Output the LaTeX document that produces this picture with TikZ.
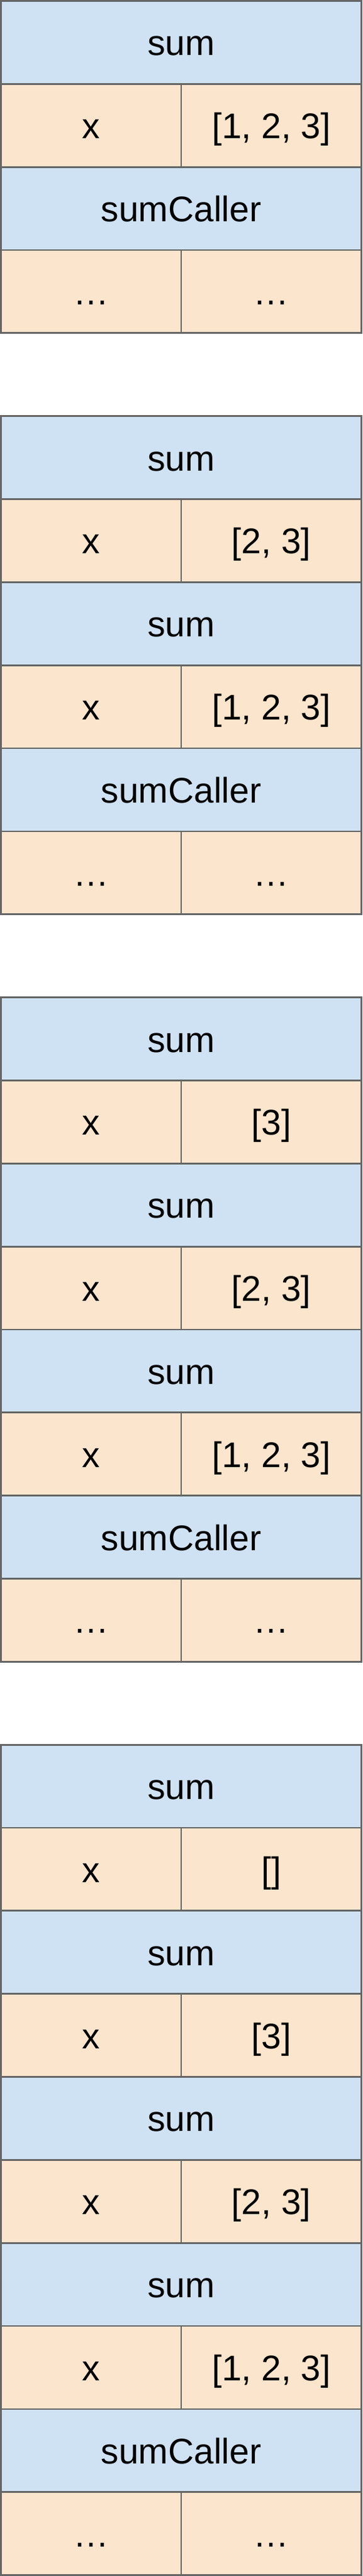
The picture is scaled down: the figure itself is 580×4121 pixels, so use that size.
\documentclass[tikz,border=0pt]{standalone}
\usepackage{fontspec}
\setmainfont{Liberation Sans}
\definecolor{hdrblue}{HTML}{CFE2F3}
\definecolor{varorange}{HTML}{FCE5CD}
\definecolor{edgegray}{HTML}{666666}
\tikzset{
  cell/.style={draw=edgegray, line width=1.4pt, inner sep=0pt, minimum height=66.42pt,
    font=\fontsize{28.5}{34}\selectfont, text=black, text height=27pt, text depth=6pt},
  hdr/.style={cell, fill=hdrblue, minimum width=288.5pt},
  var/.style={cell, fill=varorange, minimum width=144.25pt},
}
\newcommand\hdrrow[3]{\node[hdr] (#1) at (290,{1.5+(#2+0.5)*132.84}) {#3};}
\newcommand\varrow[4]{%
  \node[var] (#1l) at (145.75,{1.5+(#2+0.5)*132.84}) {#3};
  \node[var] (#1r) at (434.25,{1.5+(#2+0.5)*132.84}) {#4};}
\begin{document}
\begin{tikzpicture}[x=0.5pt,y=-0.5pt]
\useasboundingbox (0,0) rectangle (580,4121);
% frame 1
\hdrrow{a1}{0}{sum}
\varrow{a2}{1}{x}{[1, 2, 3]}
\hdrrow{a3}{2}{sumCaller}
\varrow{a4}{3}{…}{…}
% frame 2
\hdrrow{b1}{5}{sum}
\varrow{b2}{6}{x}{[2, 3]}
\hdrrow{b3}{7}{sum}
\varrow{b4}{8}{x}{[1, 2, 3]}
\hdrrow{b5}{9}{sumCaller}
\varrow{b6}{10}{…}{…}
% frame 3
\hdrrow{c1}{12}{sum}
\varrow{c2}{13}{x}{[3]}
\hdrrow{c3}{14}{sum}
\varrow{c4}{15}{x}{[2, 3]}
\hdrrow{c5}{16}{sum}
\varrow{c6}{17}{x}{[1, 2, 3]}
\hdrrow{c7}{18}{sumCaller}
\varrow{c8}{19}{…}{…}
% frame 4
\hdrrow{d1}{21}{sum}
\varrow{d2}{22}{x}{[]}
\hdrrow{d3}{23}{sum}
\varrow{d4}{24}{x}{[3]}
\hdrrow{d5}{25}{sum}
\varrow{d6}{26}{x}{[2, 3]}
\hdrrow{d7}{27}{sum}
\varrow{d8}{28}{x}{[1, 2, 3]}
\hdrrow{d9}{29}{sumCaller}
\varrow{d10}{30}{…}{…}
\end{tikzpicture}
\end{document}
